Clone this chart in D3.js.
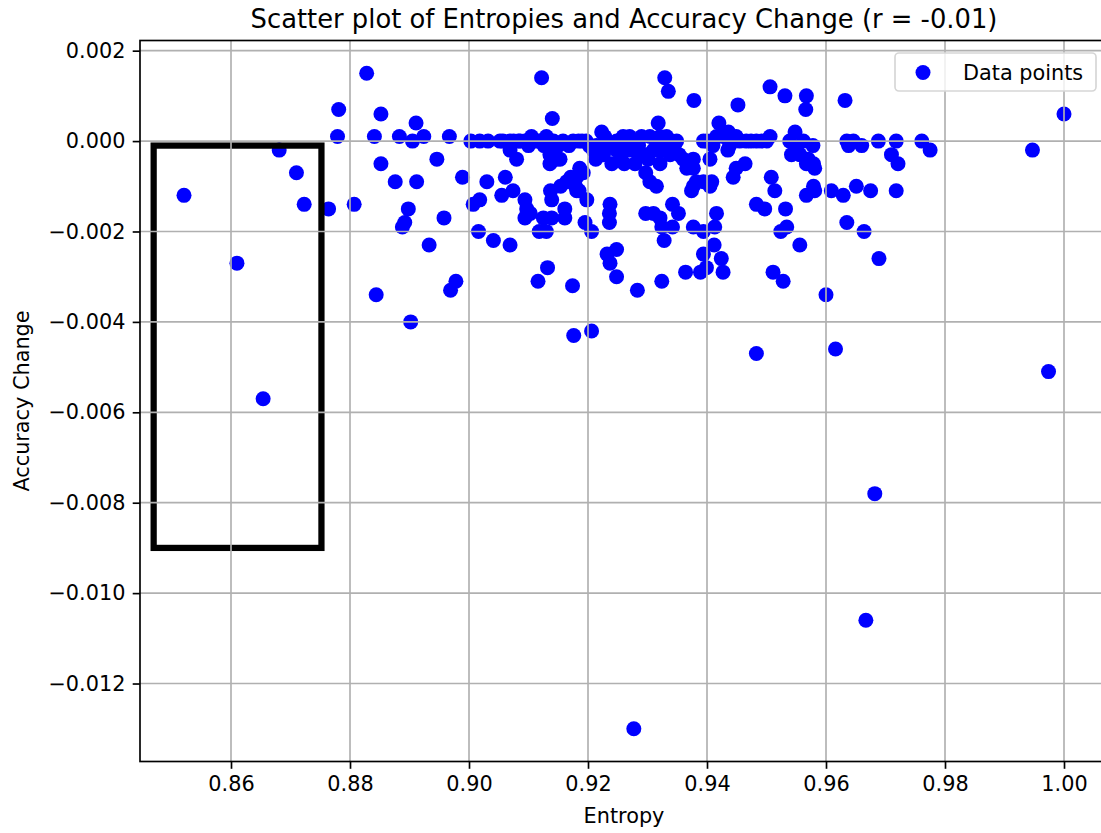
<!DOCTYPE html>
<html>
<head>
<meta charset="utf-8">
<script src="https://cdn.jsdelivr.net/npm/d3@7"></script>
<style>
	html, body { margin: 0; padding: 0; background: #fff; }
	svg { display: block; font-family: "DejaVu Sans", sans-serif; }
</style>
</head>
<body>
<svg id="chart" width="1101" height="833"></svg>
<script>
"use strict";

var title = "Scatter plot of Entropies and Accuracy Change (r = -0.01)";
var x_label = "Entropy";
var y_label = "Accuracy Change";
var legend_label = "Data points";

var x_ticks = [0.86, 0.88, 0.90, 0.92, 0.94, 0.96, 0.98, 1.00];
var y_ticks = [0.002, 0.000, -0.002, -0.004, -0.006, -0.008, -0.010, -0.012];

// highlighted region (data coords)
var box_entropy = [0.847, 0.8752];
var box_accuracy = [-0.009, -0.0001];

var entropy = [
	0.8521, 0.8610, 0.8654, 0.8681, 0.8710, 0.8723, 0.8764, 0.8779, 0.8781, 0.8828,
	0.8841, 0.8852, 0.8852, 0.8883, 0.8905, 0.8911, 0.8924, 0.8967, 0.8946, 0.8876,
	0.8912, 0.8807, 0.8898, 0.8892, 0.8888, 0.8958, 0.8933, 0.8844, 0.8902, 0.8978,
	0.8969, 0.8989, 0.9003, 0.9018, 0.9032, 0.9052, 0.9057, 0.9069, 0.9083, 0.9105,
	0.9094, 0.9130, 0.9142, 0.9069, 0.9080, 0.9100, 0.9136, 0.9147, 0.9122, 0.9140,
	0.9030, 0.9061, 0.9074, 0.9094, 0.9137, 0.9055, 0.9018, 0.9007, 0.9097, 0.9094,
	0.9103, 0.9125, 0.9139, 0.9139, 0.9016, 0.9041, 0.9069, 0.9118, 0.9130, 0.9132,
	0.9116, 0.9086, 0.9161, 0.9161, 0.9181, 0.9198, 0.9195, 0.9206, 0.9237, 0.9236,
	0.9236, 0.9174, 0.9232, 0.9248, 0.9237, 0.9248, 0.9283, 0.9324, 0.9297, 0.9310,
	0.9321, 0.9324, 0.9342, 0.9352, 0.9342, 0.9328, 0.9377, 0.9394, 0.9416, 0.9413,
	0.9412, 0.9394, 0.9424, 0.9427, 0.9399, 0.9389, 0.9364, 0.9377, 0.9405, 0.9483,
	0.9497, 0.9514, 0.9532, 0.9534, 0.9524, 0.9556, 0.9567, 0.9581, 0.9511, 0.9528,
	0.9600, 0.9176, 0.9206, 0.9483, 0.9329, 0.9335, 0.9378, 0.9506, 0.9531, 0.9567,
	0.9566, 0.9452, 0.9318, 0.9420, 0.9136, 0.9158, 0.9175, 0.9190, 0.9223, 0.9214,
	0.9234, 0.9248, 0.9259, 0.9270, 0.9290, 0.9304, 0.9321, 0.9332, 0.9349, 0.9394,
	0.9416, 0.9427, 0.9438, 0.9449, 0.9466, 0.9483, 0.9506, 0.9548, 0.9539, 0.9562,
	0.9578, 0.9136, 0.9153, 0.9209, 0.9226, 0.9240, 0.9248, 0.9270, 0.9279, 0.9298,
	0.9310, 0.9321, 0.9297, 0.9304, 0.9315, 0.9360, 0.9377, 0.9382, 0.9374, 0.9405,
	0.9408, 0.9435, 0.9464, 0.9449, 0.9444, 0.9542, 0.9567, 0.9579, 0.9581, 0.9508,
	0.9164, 0.9181, 0.9192, 0.9136, 0.9154, 0.9171, 0.9179, 0.9185, 0.9186, 0.9261,
	0.9318, 0.9353, 0.9366, 0.9377, 0.9394, 0.9436, 0.9438, 0.9551, 0.9556, 0.9570,
	0.9632, 0.9635, 0.9629, 0.9609, 0.9579, 0.9635, 0.9646, 0.9638, 0.9660, 0.9688,
	0.9718, 0.9761, 0.9775, 0.9710, 0.9721, 0.9651, 0.9675, 0.9718, 0.9664, 0.9689,
	1.0000, 0.9947, 0.9616, 0.9682, 0.9667, 0.9277, 0.9974, 0.9202, 0.9219, 0.9243,
	0.9256, 0.9285, 0.9287, 0.9301, 0.9326, 0.9338, 0.9345, 0.9213, 0.9228, 0.9262,
	0.9283, 0.9315, 0.9340, 0.9118, 0.9126, 0.9150, 0.9168, 0.9184, 0.9197, 0.9400,
	0.9410, 0.9455, 0.9474, 0.9492, 0.9500, 0.9111, 0.9075
];

var accuracy_change = [
	-0.0012, -0.0027, -0.0057, -0.0002, -0.0007, -0.0014, -0.0015, 0.0001, 0.0007, 0.0015,
	0.0001, 0.0006, -0.0005, 0.0001, 0.0000, 0.0004, 0.0001, 0.0001, -0.0004, -0.0009,
	-0.0009, -0.0014, -0.0015, -0.0018, -0.0019, -0.0017, -0.0023, -0.0034, -0.0040, -0.0031,
	-0.0033, -0.0008, 0.0000, 0.0000, 0.0000, 0.0000, 0.0000, 0.0000, 0.0000, 0.0001,
	0.0000, 0.0001, 0.0000, -0.0002, -0.0004, -0.0001, -0.0003, -0.0004, 0.0014, 0.0005,
	-0.0009, -0.0008, -0.0011, -0.0013, -0.0011, -0.0012, -0.0013, -0.0014, -0.0015, -0.0017,
	-0.0016, -0.0017, -0.0017, -0.0013, -0.0020, -0.0022, -0.0023, -0.0020, -0.0020, -0.0028,
	-0.0031, 0.0000, -0.0015, -0.0017, -0.0011, -0.0013, -0.0018, -0.0020, -0.0014, -0.0016,
	-0.0018, -0.0032, -0.0025, -0.0024, -0.0027, -0.0030, -0.0033, -0.0031, -0.0016, -0.0016,
	-0.0017, -0.0019, -0.0014, -0.0016, -0.0019, -0.0022, -0.0019, -0.0020, -0.0016, -0.0019,
	-0.0023, -0.0025, -0.0026, -0.0029, -0.0028, -0.0029, -0.0029, -0.0010, -0.0010, -0.0014,
	-0.0015, -0.0011, -0.0015, -0.0019, -0.0020, -0.0023, -0.0012, -0.0011, -0.0029, -0.0031,
	-0.0034, -0.0043, -0.0042, -0.0047, 0.0014, 0.0011, 0.0009, 0.0012, 0.0010, 0.0010,
	0.0007, 0.0008, 0.0004, 0.0004, 0.0000, 0.0000, 0.0000, 0.0000, 0.0002, -0.0001,
	-0.0001, 0.0000, 0.0001, 0.0001, 0.0001, 0.0001, 0.0001, 0.0001, 0.0000, 0.0000,
	0.0001, 0.0001, 0.0001, 0.0001, 0.0000, 0.0000, 0.0001, 0.0002, 0.0000, 0.0000,
	-0.0001, -0.0002, -0.0004, -0.0002, -0.0003, -0.0005, -0.0002, -0.0002, -0.0005, -0.0003,
	-0.0002, -0.0005, -0.0007, -0.0009, -0.0010, -0.0004, -0.0006, -0.0009, -0.0011, -0.0004,
	-0.0009, -0.0002, -0.0005, -0.0006, -0.0008, -0.0003, -0.0005, -0.0005, -0.0006, -0.0008,
	-0.0009, -0.0008, -0.0007, -0.0005, -0.0010, -0.0008, -0.0010, -0.0011, -0.0006, -0.0005,
	-0.0002, -0.0003, -0.0006, -0.0004, -0.0009, 0.0002, -0.0001, -0.0002, -0.0003, -0.0004,
	0.0009, -0.0018, -0.0012, -0.0011, -0.0010, 0.0000, 0.0000, -0.0001, -0.0001, 0.0000,
	0.0000, 0.0000, -0.0002, -0.0003, -0.0005, -0.0010, -0.0011, -0.0011, -0.0020, -0.0026,
	0.0006, -0.0002, -0.0046, -0.0078, -0.0106, -0.0130, -0.0051, -0.0001, -0.0002, -0.0001,
	-0.0003, -0.0001, -0.0003, -0.0004, -0.0002, -0.0003, -0.0001, -0.0004, 0.0001, 0.0000,
	0.0000, 0.0000, 0.0000, 0.0000, -0.0001, -0.0001, -0.0001, 0.0000, 0.0000, 0.0000,
	-0.0001, 0.0000, 0.0000, 0.0000, 0.0000, 0.0000, 0.0000
];

var points = entropy.map(function(e, i) { return { x: e, y: accuracy_change[i] }; });

// figure layout (px), 10pt text at ~150 dpi
var area = { left: 140, top: 40.5, right: 1108, bottom: 761.5 };
var font_size = 20.8;
var tick_len = 7.3;
var line_w = 1.67;
var dot_r = 7.5;
var grid_color = "#b0b0b0";

// matplotlib style 5% margins around the data
function padded(values) {
	var ext = d3.extent(values);
	var pad = (ext[1] - ext[0]) * 0.05;
	return [ext[0] - pad, ext[1] + pad];
}

var x = d3.scaleLinear().domain(padded(entropy)).range([area.left, area.right]);
var y = d3.scaleLinear().domain(padded(accuracy_change)).range([area.bottom, area.top]);

var svg = d3.select("#chart");

svg.append("defs").append("clipPath").attr("id", "plot-clip")
	.append("rect")
		.attr("x", area.left).attr("y", area.top)
		.attr("width", area.right - area.left).attr("height", area.bottom - area.top);

var plot = svg.append("g").attr("clip-path", "url(#plot-clip)");

// scatter
plot.append("g").selectAll("circle")
	.data(points)
		.enter().append("circle")
		.attr("cx", function(d) { return x(d.x); })
		.attr("cy", function(d) { return y(d.y); })
		.attr("r", dot_r)
		.attr("fill", "#0000ff");

// highlight rectangle
plot.append("rect")
	.attr("x", x(box_entropy[0]))
	.attr("y", y(box_accuracy[1]))
	.attr("width", x(box_entropy[1]) - x(box_entropy[0]))
	.attr("height", y(box_accuracy[0]) - y(box_accuracy[1]))
	.attr("fill", "none")
	.attr("stroke", "#000")
	.attr("stroke-width", 6.25);

// grid sits above the collection, like matplotlib's default zorder
var grid = plot.append("g").attr("stroke", grid_color).attr("stroke-width", line_w);
grid.selectAll("line.gx")
	.data(x_ticks)
		.enter().append("line")
		.attr("x1", function(d) { return x(d); }).attr("x2", function(d) { return x(d); })
		.attr("y1", area.top).attr("y2", area.bottom);
grid.selectAll("line.gy")
	.data(y_ticks)
		.enter().append("line")
		.attr("y1", function(d) { return y(d); }).attr("y2", function(d) { return y(d); })
		.attr("x1", area.left).attr("x2", area.right);

// axes
var fmt_x = d3.format(".2f");
var fmt_y = function(v) { return d3.format(".3f")(v).replace("-", "\u2212"); };

var x_axis = d3.axisBottom(x).tickValues(x_ticks).tickFormat(fmt_x)
	.tickSize(tick_len).tickPadding(7.3).tickSizeOuter(0);
var y_axis = d3.axisLeft(y).tickValues(y_ticks).tickFormat(fmt_y)
	.tickSize(tick_len).tickPadding(7.3).tickSizeOuter(0);

var gx = svg.append("g").attr("transform", "translate(0," + area.bottom + ")").call(x_axis);
var gy = svg.append("g").attr("transform", "translate(" + area.left + ",0)").call(y_axis);

[gx, gy].forEach(function(g) {
	g.select(".domain").remove();
	g.selectAll(".tick line").attr("stroke", "#000").attr("stroke-width", line_w);
	g.selectAll(".tick text")
		.attr("fill", "#000")
		.style("font-size", font_size + "px")
		.style("font-family", "DejaVu Sans");
});
gx.selectAll(".tick text").attr("dy", "0.71em");

// spines
svg.append("rect")
	.attr("x", area.left).attr("y", area.top)
	.attr("width", area.right - area.left).attr("height", area.bottom - area.top)
	.attr("fill", "none")
	.attr("stroke", "#000").attr("stroke-width", line_w);

// labels
svg.append("text")
	.attr("x", (area.left + area.right) / 2).attr("y", 28)
	.attr("text-anchor", "middle")
	.attr("fill", "#000")
	.style("font-size", "25.8px")
	.text(title);

svg.append("text")
	.attr("x", (area.left + area.right) / 2).attr("y", 823)
	.attr("text-anchor", "middle")
	.attr("fill", "#000")
	.style("font-size", font_size + "px")
	.text(x_label);

svg.append("text")
	.attr("transform", "translate(29," + ((area.top + area.bottom) / 2) + ") rotate(-90)")
	.attr("text-anchor", "middle")
	.attr("fill", "#000")
	.style("font-size", font_size + "px")
	.text(y_label);

// legend
var legend = svg.append("g").attr("transform", "translate(895,53)");
legend.append("rect")
	.attr("width", 201).attr("height", 38)
	.attr("rx", 4).attr("ry", 4)
	.attr("fill", "#fff").attr("fill-opacity", 0.8)
	.attr("stroke", "#d6d6d6").attr("stroke-width", line_w);
legend.append("circle")
	.attr("cx", 28).attr("cy", 19.5).attr("r", dot_r)
	.attr("fill", "#0000ff");
legend.append("text")
	.attr("x", 68).attr("y", 19.5).attr("dy", "0.36em")
	.attr("fill", "#000")
	.style("font-size", font_size + "px")
	.text(legend_label);
</script>
</body>
</html>
